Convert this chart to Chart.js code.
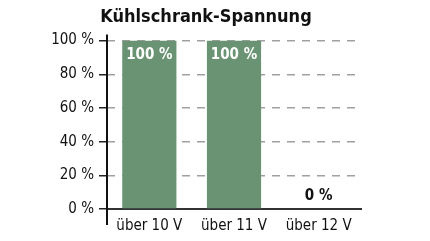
<!DOCTYPE html>
<html>
<head>
<meta charset="utf-8">
<script src="https://cdn.jsdelivr.net/npm/chart.js@4"></script>
<style>
  html, body { margin: 0; padding: 0; background: #fff; }
  #wrap { width: 430px; height: 241px; }
</style>
</head>
<body>
<div id="wrap"><canvas id="myChart"></canvas></div>
<script>
const labels = ['über 10 V', 'über 11 V', 'über 12 V'];
const values = [100, 100, 0];
const yTicks = [0, 20, 40, 60, 80, 100];

const FONT = '"Liberation Sans Narrow", "DejaVu Sans Condensed", "Liberation Sans", sans-serif';
const barColor = '#6a9373';

const ctx = document.getElementById('myChart').getContext('2d');

// value labels on the bars, white inside full bars and black above empty ones
const valueLabels = {
  id: 'valueLabels',
  afterDatasetsDraw(chart) {
    const c = chart.ctx;
    const meta = chart.getDatasetMeta(0);
    c.save();
    c.font = 'bold 15px ' + FONT;
    c.textAlign = 'center';
    c.textBaseline = 'middle';
    meta.data.forEach((bar, i) => {
      const v = values[i];
      if (v > 10) {
        c.fillStyle = '#ffffff';
        c.fillText(v + ' %', bar.x, bar.y + 15);
      } else {
        c.fillStyle = '#111111';
        c.fillText(v + ' %', bar.x, bar.y - 13);
      }
    });
    c.restore();
  }
};

// y axis line runs a bit past the plot area
const axisLine = {
  id: 'axisLine',
  afterDraw(chart) {
    const c = chart.ctx;
    const a = chart.chartArea;
    c.save();
    c.strokeStyle = '#111';
    c.lineWidth = 2;
    c.beginPath();
    c.moveTo(a.left, a.top - 6);
    c.lineTo(a.left, a.bottom + 16);
    c.stroke();
    c.restore();
  }
};

new Chart(ctx, {
  type: 'bar',
  data: {
    labels: labels,
    datasets: [{
      data: values,
      backgroundColor: barColor,
      borderWidth: 0,
      barPercentage: 0.64,
      categoryPercentage: 1
    }]
  },
  options: {
    responsive: true,
    maintainAspectRatio: false,
    animation: false,
    layout: { padding: { left: 0, right: 18, top: 0, bottom: 0 } },
    plugins: {
      legend: { display: false },
      tooltip: { enabled: false },
      title: {
        display: true,
        text: 'Kühlschrank-Spannung',
        color: '#111',
        font: { family: FONT, size: 18, weight: 'bold' },
        padding: { top: 7, bottom: 12 }
      }
    },
    scales: {
      x: {
        afterFit: scale => { scale.height = 32; },
        grid: { display: false, tickLength: 0 },
        border: { display: true, color: '#333', width: 2 },
        ticks: {
          color: '#111',
          padding: 8,
          font: { family: FONT, size: 15 }
        }
      },
      y: {
        min: 0,
        max: 100,
        afterBuildTicks: scale => { scale.ticks = yTicks.map(v => ({ value: v })); },
        afterFit: scale => { scale.width = 107; },
        grid: {
          color: ctx => ctx.tick && ctx.tick.value === 0 ? 'rgba(0,0,0,0)' : '#a0a0a0',
          lineWidth: 1.5,
          tickLength: 8,
          tickColor: '#222',
          tickWidth: 1.5,
          tickBorderDash: []
        },
        border: { display: false, dash: [8, 7] },
        ticks: {
          color: '#111',
          padding: 5,
          font: { family: FONT, size: 15 },
          callback: v => v + ' %'
        }
      },
      yRight: {
        position: 'right',
        display: true,
        afterFit: scale => { scale.width = 51; },
        grid: { display: false },
        border: { display: false },
        ticks: { display: false }
      }
    }
  },
  plugins: [valueLabels, axisLine]
});
</script>
</body>
</html>
